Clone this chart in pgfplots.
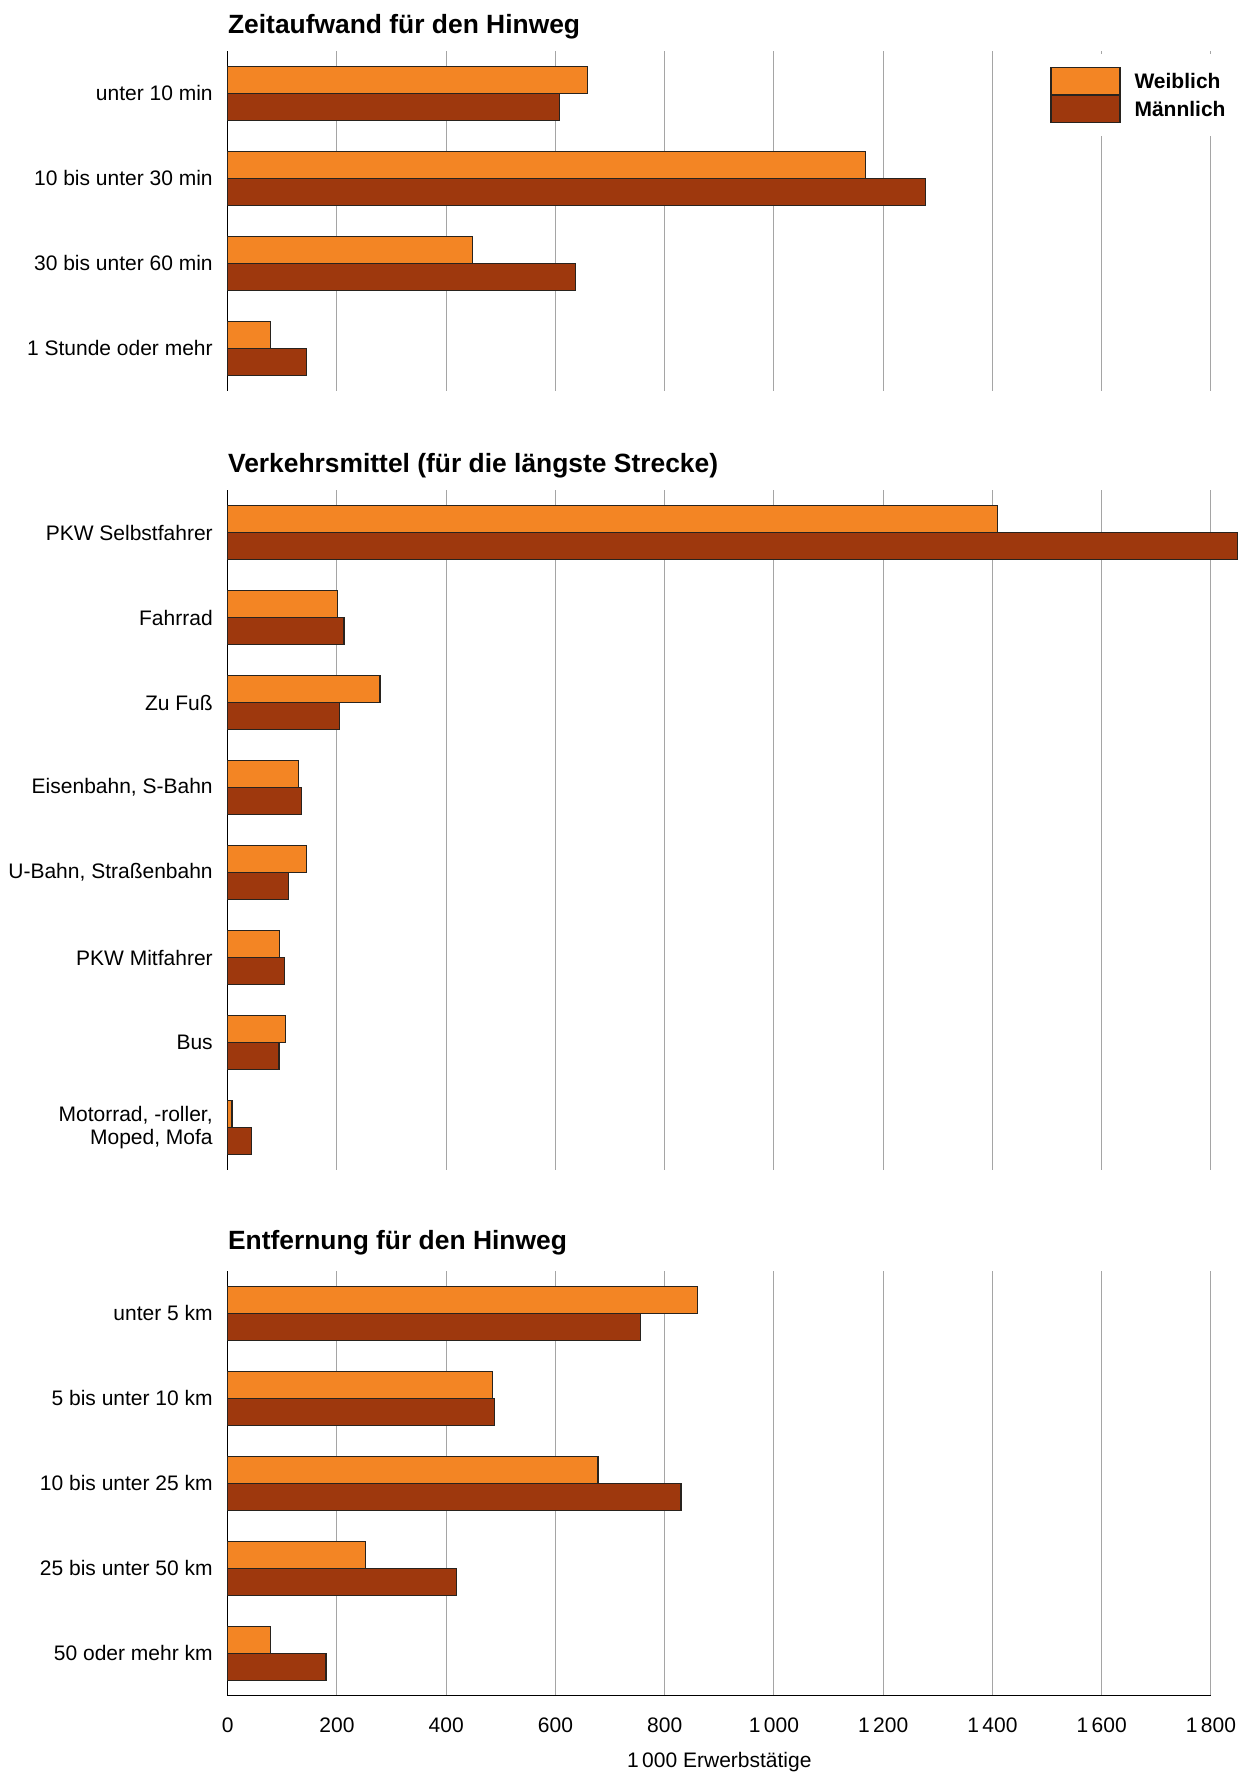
\documentclass[border=0pt]{standalone}
\usepackage{fontspec}
\setmainfont{Liberation Sans}
\usepackage{pgfplots}
\pgfplotsset{compat=1.18}
\usepackage{pgfplotstable}
\definecolor{wcol}{RGB}{243,133,36}
\definecolor{mcol}{RGB}{158,56,13}
\definecolor{edgecol}{RGB}{40,35,30}
\definecolor{gridcol}{RGB}{165,165,165}

% Zeitaufwand fuer den Hinweg (y: 3 = top)
\pgfplotstableread{
y w m
3 659 607
2 1167 1278
1 448 637
0 78 144
}\tA
% Verkehrsmittel
\pgfplotstableread{
y w m
7 1409 1849
6 201 213
5 279 205
4 130 135
3 144 112
2 95 104
1 106 94
0 8 43
}\tB
% Entfernung fuer den Hinweg
\pgfplotstableread{
y w m
4 860 756
3 485 488
2 678 830
1 252 419
0 79 180
}\tC

\newcommand{\lblfont}{\fontsize{10.5}{11.3}\selectfont}
\newcommand{\ttlfont}{\bfseries\fontsize{13.2}{15}\selectfont}

\pgfplotsset{
  panel/.style={
    scale only axis, width=491.6pt,
    xmin=0, xmax=1800, enlargelimits=false, clip=false,
    axis x line*=bottom, axis y line*=left,
    xtick={0,200,...,1800},
    xmajorgrids, major grid style={gridcol, line width=0.5pt},
    major tick length=0pt,
    axis line style={black, line width=0.8pt},
    yticklabel style={font=\lblfont, align=right, inner sep=0pt, xshift=-7.3pt},
    title style={at={(axis description cs:0,1)}, anchor=west, yshift=6.1pt, inner sep=0pt, font=\ttlfont},
  },
  wbar/.style={xbar, bar width=13.5pt, bar shift=6.75pt, fill=wcol, draw=edgecol, line width=0.6pt,
    legend image code/.code={\draw[fill=wcol, draw=edgecol, line width=0.6pt] (0pt,-6.75pt) rectangle (34.5pt,6.75pt);}},
  mbar/.style={xbar, bar width=13.5pt, bar shift=-6.75pt, fill=mcol, draw=edgecol, line width=0.6pt,
    legend image code/.code={\draw[fill=mcol, draw=edgecol, line width=0.6pt] (0pt,-6.75pt) rectangle (34.5pt,6.75pt);}},
}

\begin{document}
\begin{tikzpicture}
\useasboundingbox (0,0) rectangle (623pt,887pt);

% Panel 1
\begin{axis}[panel,
  at={(113.85pt,691.6pt)}, anchor=south west,
  height=170pt, ymin=-0.5, ymax=3.5,
  x axis line style={draw=none},
  xticklabels={},
  ytick={0,1,2,3},
  yticklabels={1 Stunde oder mehr,30 bis unter 60 min,10 bis unter 30 min,unter 10 min},
  title={Zeitaufwand für den Hinweg},
  legend style={at={(rel axis cs:0.820,0.993)}, anchor=north west, draw=none, fill=white,
    inner xsep=8pt, inner ysep=6.5pt, row sep=0pt,
    font=\bfseries\fontsize{10.5}{12}\selectfont,
    nodes={inner sep=0pt, text height=10.55pt, text depth=2.95pt},
    /tikz/every odd column/.append style={column sep=7pt}},
  legend cell align=left,
]
\addplot[wbar] table[x=w, y=y] {\tA};
\addplot[mbar] table[x=m, y=y] {\tA};
\legend{Weiblich,Männlich}
\end{axis}

% Panel 2
\begin{axis}[panel,
  at={(113.85pt,302pt)}, anchor=south west,
  height=340pt, ymin=-0.5, ymax=7.5,
  x axis line style={draw=none},
  xticklabels={},
  ytick={0,1,2,3,4,5,6,7},
  yticklabels={{Motorrad, -roller,\\Moped, Mofa},Bus,PKW Mitfahrer,{U-Bahn, Straßenbahn},{Eisenbahn, S-Bahn},Zu Fuß,Fahrrad,PKW Selbstfahrer},
  title={Verkehrsmittel (für die längste Strecke)},
]
\addplot[wbar] table[x=w, y=y] {\tB};
\addplot[mbar] table[x=m, y=y] {\tB};
\end{axis}

% Panel 3
\begin{axis}[panel,
  at={(113.85pt,39.2pt)}, anchor=south west,
  height=212.5pt, ymin=-0.5, ymax=4.5,
  xticklabels={0,200,400,600,800,1\,000,1\,200,1\,400,1\,600,1\,800},
  xticklabel style={font=\lblfont, inner sep=0pt, yshift=-11pt},
  ytick={0,1,2,3,4},
  yticklabels={50 oder mehr km,25 bis unter 50 km,10 bis unter 25 km,5 bis unter 10 km,unter 5 km},
  xlabel={1\,000 Erwerbstätige},
  xlabel style={at={(axis description cs:0.5,0)}, anchor=center, yshift=-33.45pt, inner sep=0pt, font=\lblfont},
  title={Entfernung für den Hinweg},
  title style={yshift=1.7pt},
]
\addplot[wbar] table[x=w, y=y] {\tC};
\addplot[mbar] table[x=m, y=y] {\tC};
\end{axis}
\end{tikzpicture}
\end{document}
